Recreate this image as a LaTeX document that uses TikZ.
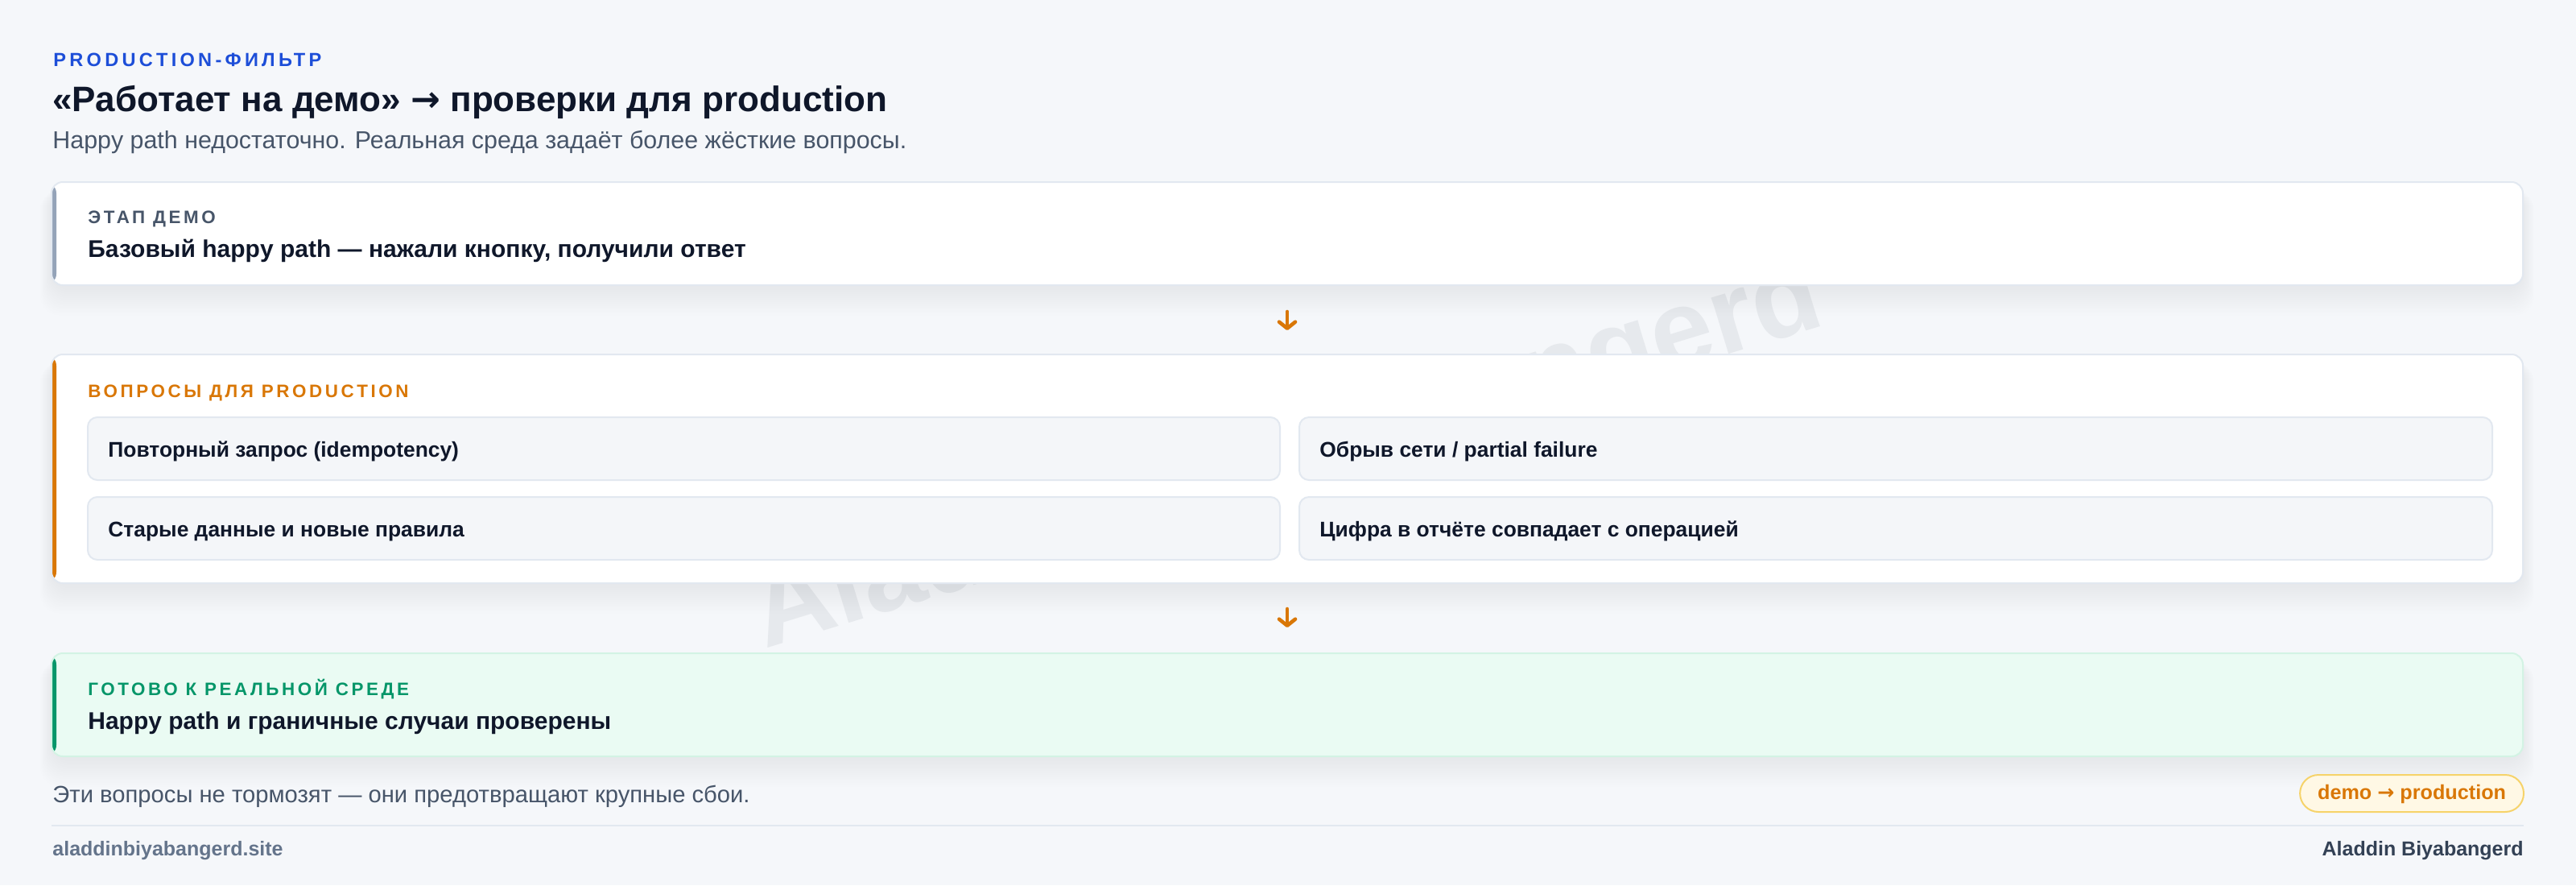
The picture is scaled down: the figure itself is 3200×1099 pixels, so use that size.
\documentclass[tikz,border=0pt]{standalone}
\usepackage{fontspec}
\setmainfont{Liberation Sans}
\newfontfamily\arrowfont{DejaVu Sans}
\usepackage{xcolor}
\usetikzlibrary{positioning, fit, calc, arrows.meta}

\definecolor{pagebg}{HTML}{F5F7FA}
\definecolor{ink}{HTML}{0F172A}
\definecolor{slate}{HTML}{475569}
\definecolor{muted}{HTML}{64748B}
\definecolor{namecol}{HTML}{334155}
\definecolor{hairline}{HTML}{E2E8F0}
\definecolor{kickblue}{HTML}{1D4ED8}
\definecolor{demobar}{HTML}{94A3B8}
\definecolor{amber}{HTML}{D97706}
\definecolor{okgreen}{HTML}{059669}
\definecolor{mint}{HTML}{EAFBF3}
\definecolor{mintline}{HTML}{D3F3E4}
\definecolor{chipfill}{HTML}{FFF8E5}
\definecolor{chipline}{HTML}{F6D36A}
\definecolor{itemfill}{HTML}{F4F6F9}
\definecolor{wmark}{HTML}{E6E9ED}
\definecolor{shade}{HTML}{0F172A}

\newcommand{\toarrow}{{\arrowfont →}}

\begin{document}
\begin{tikzpicture}[x=0.5pt, y=-0.5pt,
  txt/.style={inner sep=0pt, anchor=base west},
  kicker/.style={txt, text=kickblue, font=\fontsize{11.8}{14}\selectfont\bfseries\addfontfeatures{LetterSpace=18}},
  headline/.style={txt, text=ink, font=\fontsize{22}{26}\selectfont\bfseries},
  lead/.style={txt, text=slate, font=\fontsize{#1}{17}\selectfont},
  card/.style={rectangle, rounded corners=7pt, inner sep=0pt, draw=hairline, line width=1pt, fill=white},
  accent/.style={path picture={\fill[#1] (path picture bounding box.north west) rectangle ([xshift=3pt]path picture bounding box.south west);}},
  softshade/.style={fill=shade, opacity=0.005, rounded corners=12pt},
  cardcap/.style={txt, text=#1, font=\fontsize{11.2}{13}\selectfont\bfseries\addfontfeatures{LetterSpace=16}},
  cardtext/.style={txt, text=ink, font=\fontsize{15}{18}\selectfont\bfseries},
  item/.style={rectangle, rounded corners=6pt, inner sep=0pt, draw=hairline, line width=1pt, fill=itemfill},
  itemtext/.style={txt, text=ink, font=\fontsize{13.2}{15}\selectfont\bfseries},
  flow/.style={draw=amber, line width=2.3pt, line cap=round, -{Straight Barb[round, length=4pt, width=10pt]}},
  chip/.style={rectangle, rounded corners=11.5pt, minimum height=23pt, inner xsep=11pt, inner ysep=0pt,
    text height=7pt, text depth=0pt,
    draw=chipline, line width=1pt, fill=chipfill, text=amber, font=\fontsize{12.6}{14}\selectfont\bfseries},
  watermark/.style={inner sep=0pt, anchor=base west, text=wmark, rotate=17, font=\fontsize{69}{69}\selectfont\bfseries}]

\fill[pagebg] (0,0) rectangle (3200,1099);
\useasboundingbox (0,0) rectangle (3200,1099);

% watermark behind the cards
\node[watermark] (wm) at (950,806) {Aladdin Biyabangerd};

% header
\node[kicker] (kick) at (66,82) {PRODUCTION-ФИЛЬТР};
\node[headline] (head) at (65,138) {«Работает на демо» \toarrow{} проверки для production};
\node[lead=15.2] (sub) at (65,184) {Happy path недостаточно. Реальная среда задаёт более жёсткие вопросы.};

% soft shadows under the three stages
\foreach \ya/\yb in {226/354, 440/724, 811/939}
  \foreach \s in {1,...,14}
    \fill[softshade] (64-\s, \ya+10) rectangle (3134+\s, \yb+4+2.4*\s);

% stages
\node[card, accent=demobar, fit={(64,226) (3134,354)}] (demo) {};
\node[card, accent=amber, fit={(64,440) (3134,724)}] (checks) {};
\node[card, fill=mint, draw=mintline, accent=okgreen, fit={(64,811) (3134,939)}] (ready) {};

\node[cardcap=slate] (demo-cap) at (109,277) {ЭТАП ДЕМО};
\node[cardtext] (demo-txt) at (109,319) {Базовый happy path — нажали кнопку, получили ответ};

\node[cardcap=amber] (checks-cap) at (109,493) {ВОПРОСЫ ДЛЯ PRODUCTION};
\node[item, fit={(109,518) (1590,596)}] (q1) {};
\node[item, fit={(1614,518) (3096,596)}] (q2) {};
\node[item, fit={(109,617) (1590,695)}] (q3) {};
\node[item, fit={(1614,617) (3096,695)}] (q4) {};
\foreach \b/\t in {q1/{Повторный запрос (idempotency)}, q2/{Обрыв сети / partial failure},
                   q3/{Старые данные и новые правила}, q4/{Цифра в отчёте совпадает с операцией}}
  \node[itemtext] (\b-txt) at ([xshift=13pt, yshift=-5pt]\b.west) {\t};

\node[cardcap=okgreen] (ready-cap) at (109,863) {ГОТОВО К РЕАЛЬНОЙ СРЕДЕ};
\node[cardtext] (ready-txt) at (109,905) {Happy path и граничные случаи проверены};

\draw[flow] ([yshift=-16pt]demo.south) -- ([yshift=14.5pt]checks.north);
\draw[flow] ([yshift=-15.5pt]checks.south) -- ([yshift=15.5pt]ready.north);

% footer
\node[lead=14.6] (note) at (65,996) {Эти вопросы не тормозят — они предотвращают крупные сбои.};
\node[chip, anchor=east] (tag) at (3136,985) {demo \toarrow{} production};
\draw[hairline, line width=1pt] (64,1025) -- (3135,1025);
\node[txt, text=muted, font=\fontsize{12.5}{14}\selectfont\bfseries] (site) at (65,1062) {aladdinbiyabangerd.site};
\node[txt, anchor=base east, text=namecol, font=\fontsize{12.5}{14}\selectfont\bfseries] (author) at (3135,1062) {Aladdin Biyabangerd};

\end{tikzpicture}
\end{document}
